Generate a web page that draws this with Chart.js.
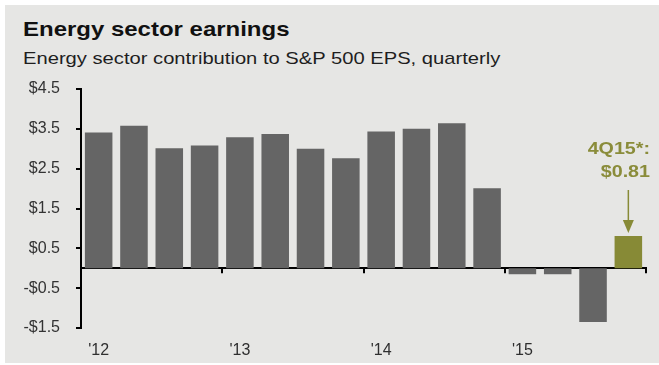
<!DOCTYPE html>
<html>
<head>
<meta charset="utf-8">
<script src="https://cdn.jsdelivr.net/npm/chart.js@4/dist/chart.umd.min.js"></script>
<style>
  html, body { margin: 0; padding: 0; background: #ffffff; }
  #wrap { position: relative; width: 659px; height: 365px; overflow: hidden; }
  #panel { position: absolute; left: 5px; top: 5px; width: 654px; height: 358px; background: #e6e6e4; }
  #box { position: absolute; left: 0; top: 0; width: 659px; height: 365px; }
  .t { position: absolute; white-space: nowrap; font-family: "Liberation Sans", Arial, sans-serif; line-height: 1; transform-origin: 0 0; display: inline-block; }
  #title { left: 23px; top: 18px; font-size: 21px; font-weight: bold; color: #111111; }
  #subtitle { left: 23px; top: 50px; font-size: 17px; color: #1e1e1e; }
</style>
</head>
<body>
<div id="wrap">
  <div id="panel"></div>
  <span id="title" class="t">Energy sector earnings</span>
  <span id="subtitle" class="t">Energy sector contribution to S&amp;P 500 EPS, quarterly</span>
  <div id="box"><canvas id="c"></canvas></div>
</div>
<script>
// ---- data ----
const quarters = ["1Q12","2Q12","3Q12","4Q12","1Q13","2Q13","3Q13","4Q13",
                  "1Q14","2Q14","3Q14","4Q14","1Q15","2Q15","3Q15","4Q15"];
const energyEps = [3.41, 3.58, 3.01, 3.08, 3.29, 3.37, 3.00, 2.76,
                   3.43, 3.50, 3.64, 2.01, -0.15, -0.15, -1.35, 0.81];
const yearTickLabels = ["'12", "'13", "'14", "'15"];
const yTickValues = [-1.5, -0.5, 0.5, 1.5, 2.5, 3.5, 4.5];
const highlightLabel = ["4Q15*:", "$0.81"];

function fitWidth(id, target) {
  const el = document.getElementById(id);
  el.style.transform = 'none';
  const w = el.offsetWidth;
  el.style.transform = 'scaleX(' + (target / w) + ')';
}
function fitAll() { fitWidth('title', 266); fitWidth('subtitle', 477); }
fitAll();
if (document.fonts && document.fonts.ready) document.fonts.ready.then(fitAll);

const GRAY = '#656565';
const OLIVE = '#878a36';
const OLIVE_TEXT = '#8a8c3a';
const FONT = '"Liberation Sans", Arial, sans-serif';

// small tick marks: left of the y axis at each label, below the zero line at year boundaries
const tickMarksPlugin = {
  id: 'tickMarks',
  afterDraw(chart) {
    const ctx = chart.ctx;
    const ys = chart.scales.y;
    const xs = chart.scales.x;
    const left = chart.chartArea.left;
    const zeroY = ys.getPixelForValue(0);
    ctx.save();
    ctx.strokeStyle = '#000000';
    ctx.lineWidth = 2;
    ctx.beginPath();
    yTickValues.forEach(v => {
      const py = Math.round(ys.getPixelForValue(v));
      ctx.moveTo(left - 5, py);
      ctx.lineTo(left, py);
    });
    const n = quarters.length;
    const step = xs.getPixelForValue(1) - xs.getPixelForValue(0);
    for (let i = 4; i <= n; i += 4) {
      const px = xs.getPixelForValue(i - 1) + step / 2;
      ctx.moveTo(Math.round(px), zeroY);
      ctx.lineTo(Math.round(px), zeroY + 5);
    }
    ctx.stroke();
    ctx.restore();
  }
};

const annotationPlugin = {
  id: 'annot',
  afterDatasetsDraw(chart) {
    const meta = chart.getDatasetMeta(0);
    const bar = meta.data[quarters.length - 1];
    const ctx = chart.ctx;
    const x = bar.x;
    const top = bar.y;
    ctx.save();
    ctx.strokeStyle = OLIVE;
    ctx.fillStyle = OLIVE;
    ctx.lineWidth = 1.5;
    ctx.beginPath();
    ctx.moveTo(x, top - 46);
    ctx.lineTo(x, top - 14);
    ctx.stroke();
    ctx.beginPath();
    ctx.moveTo(x - 5.5, top - 16);
    ctx.lineTo(x + 5.5, top - 16);
    ctx.lineTo(x, top - 3);
    ctx.closePath();
    ctx.fill();
    ctx.fillStyle = OLIVE_TEXT;
    ctx.font = 'bold 16px ' + FONT;
    ctx.textAlign = 'right';
    ctx.textBaseline = 'alphabetic';
    const rightX = chart.chartArea.right + 4;
    ctx.translate(rightX, 0);
    ctx.scale(1.23, 1);
    ctx.fillText(highlightLabel[0], 0, top - 82);
    ctx.fillText(highlightLabel[1], 0, top - 59);
    ctx.restore();
  }
};

new Chart(document.getElementById('c'), {
  type: 'bar',
  data: {
    labels: quarters,
    datasets: [{
      data: energyEps,
      backgroundColor: (ctx) => ctx.dataIndex === quarters.length - 1 ? OLIVE : GRAY,
      borderWidth: 0,
      barPercentage: 0.78,
      categoryPercentage: 1.0
    }]
  },
  options: {
    responsive: true,
    maintainAspectRatio: false,
    devicePixelRatio: 1,
    animation: false,
    layout: { padding: { top: 89, right: 13, left: 0, bottom: 0 } },
    plugins: { legend: { display: false }, tooltip: { enabled: false }, title: { display: false } },
    scales: {
      x: {
        type: 'category',
        position: { y: 0 },
        offset: true,
        grid: { display: false },
        border: { display: true, color: '#000000', width: 2 },
        ticks: { display: false }
      },
      x2: {
        type: 'category',
        axis: 'x',
        position: 'bottom',
        offset: true,
        grid: { display: false },
        border: { display: false },
        ticks: {
          autoSkip: false,
          maxRotation: 0,
          padding: 5,
          color: '#2f2f2f',
          font: { family: FONT, size: 16 },
          callback: (val, i) => (i % 4 === 0) ? yearTickLabels[i / 4] : ''
        },
        afterFit: (s) => { s.height = 37; }
      },
      y: {
        type: 'linear',
        min: yTickValues[0],
        max: yTickValues[yTickValues.length - 1],
        afterBuildTicks: (s) => { s.ticks = yTickValues.map(v => ({ value: v })); },
        grid: { display: false },
        border: { display: true, color: '#000000', width: 2 },
        ticks: {
          padding: 13,
          color: '#333333',
          font: { family: FONT, size: 16 },
          callback: (v) => (v < 0 ? '-$' : '$') + Math.abs(v).toFixed(1)
        },
        afterFit: (s) => { s.width = 81; }
      }
    }
  },
  plugins: [tickMarksPlugin, annotationPlugin]
});
</script>
</body>
</html>
